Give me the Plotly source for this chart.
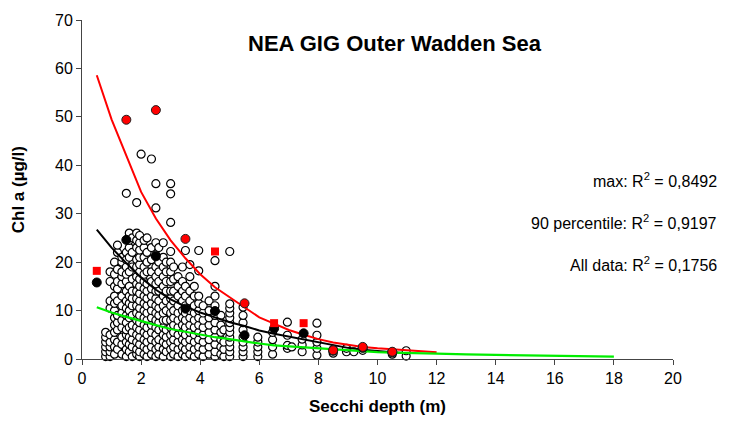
import plotly.graph_objects as go

# ---- data ----
col_x = [0.8, 0.95, 1.1, 1.2, 1.35, 1.5, 1.6, 1.7, 1.85, 1.95, 2.0, 2.1, 2.2, 2.35, 2.5, 2.6,
         2.75, 2.85, 3.0, 3.1, 3.25, 3.4, 3.5, 3.65, 3.8, 3.95, 4.1, 4.3, 4.5, 4.7, 4.8, 5.0,
         5.45, 5.95, 6.45, 6.95, 7.1, 7.45, 7.95, 8.5, 8.95, 9.2, 9.5, 10.5, 10.97]
col_y = [
    [0.5, 1.5, 2.5, 3.5, 4.5, 5.5],
    [0.5, 1.5, 2.5, 3.5, 5, 10.5, 12, 16, 18],
    [1, 2.5, 4, 5.5, 7, 8.5, 10, 11.5, 13, 15, 17.5, 20],
    [2, 3.5, 6, 7.5, 9, 12, 14.5, 16, 18.5, 22, 23.5],
    [1, 3, 4.5, 6.5, 8, 9.5, 11, 13, 15.5, 17, 18, 20, 21],
    [0.5, 2, 3.5, 5, 6, 7.5, 9, 10.5, 12, 14, 16, 17.5, 19, 20.5, 22, 34.2],
    [1.5, 3, 4.5, 6.5, 8.5, 10, 11.5, 13, 15, 18, 21, 23, 24.5, 26],
    [0.5, 2.5, 4, 5.5, 7, 9, 11, 12.5, 14, 16.5, 19, 22, 25],
    [1, 2, 3.5, 5, 6.5, 8, 9.5, 11, 12.5, 14, 15.5, 17, 19, 20.5, 23, 24.5, 26, 32.3],
    [0.5, 1.5, 3, 4.5, 6, 7.5, 9, 10.5, 12, 13.5, 15, 16.5, 18, 19.5, 21, 22.5, 24, 25.5],
    [42.3],
    [1, 2.5, 4, 5.5, 7, 8.5, 10, 11.5, 13, 14.5, 16, 17.5, 19, 21, 23, 24.5],
    [0.5, 2, 3.5, 5, 6.5, 8, 9.5, 11, 12.5, 14, 15.5, 18, 20, 22, 25],
    [1, 2.5, 4, 5.5, 7, 8.5, 10, 11.5, 13, 14.5, 16, 18, 20.5, 23, 41.3],
    [0.5, 2, 3.5, 5, 6.5, 8, 9.5, 11, 12.5, 14, 15.5, 17, 19, 21.5, 24, 31.2, 36.2],
    [1, 2.5, 4, 6, 7.5, 9, 10.5, 12, 14, 16, 18, 20, 23],
    [0.5, 2, 3.5, 5, 6.5, 8, 9.5, 11, 13, 15, 17, 19, 21, 24],
    [1.5, 3, 4.5, 6, 8, 10, 12, 14, 16, 18, 20],
    [0.5, 2, 3.5, 5, 6.5, 8, 9.5, 11, 12.5, 14, 16, 18, 20, 22.2, 28.2, 34.1, 36.2],
    [1, 2.5, 4, 5.5, 7, 8.5, 10, 12, 14, 16.5, 19],
    [0.5, 2, 3.5, 5, 6.5, 8, 9.5, 11, 13, 15, 17],
    [1, 2.5, 4, 5.5, 7, 8.5, 10, 12, 14, 16, 19],
    [0.5, 2, 3.5, 5, 6.5, 8, 9.5, 11, 13, 15, 22.4],
    [1, 2.5, 4, 5.5, 7, 8.5, 10, 12, 14, 17, 19.5],
    [0.5, 2, 3.5, 5, 6.5, 8, 9.5, 11, 13, 15],
    [1, 2.5, 4, 5.5, 7, 8.5, 10, 11.5, 13, 18.2, 22.4],
    [0.5, 2, 3.5, 5, 6.5, 8, 9.5, 11],
    [1, 2.5, 4, 5.5, 7, 8.5, 10, 12],
    [0.5, 1.5, 3, 4.5, 6, 7.5, 9, 11, 13, 15, 20.3],
    [1, 2.5, 4, 5.5, 7, 9],
    [0.5, 2, 3.5, 6],
    [0.5, 1.5, 2.5, 3.5, 4.5, 5.5, 6.5, 7.5, 8.5, 9.5, 10.5, 11.4, 22.2],
    [0.5, 1.5, 2.5, 3.5, 4.5, 6, 7.5, 9, 10.7],
    [0.5, 1.5, 2.5, 3.5, 4.5],
    [1, 2.5, 4, 5.5],
    [2.2, 2.8, 4.9, 7.6],
    [2.5],
    [1.5, 2.9, 4.1],
    [0.8, 2.2, 3.5, 4.9, 7.4],
    [1.2, 2],
    [1.5, 2.2],
    [1.5],
    [1.8],
    [1],
    [0.6, 1.7],
]

bin_x = [0.5, 1.5, 2.5, 3.5, 4.5, 5.5, 6.5, 7.5, 8.5, 9.5, 10.5]
p90_y = [15.8, 24.6, 21.2, 10.4, 9.9, 4.9, 6.3, 5.3, 1.7, 2.3, 1.4]

max_circ_x = [1.5, 2.5, 3.5, 5.5, 8.5, 9.5, 10.5]
max_circ_y = [49.4, 51.4, 24.8, 11.5, 1.8, 2.5, 1.5]
max_sq_x = [0.5, 4.5, 6.5, 7.5]
max_sq_y = [18.2, 22.2, 7.4, 7.4]

fit_max_x = [0.5, 1, 1.5, 2, 2.5, 3, 3.5, 4, 4.5, 5, 5.5, 6, 6.5, 7, 7.5, 8, 8.5, 9, 9.5, 10, 10.5, 11, 11.5, 12]
fit_max_y = [58.6, 49.5, 42, 34.5, 29, 24.5, 20.8, 17.5, 14.8, 12.7, 10.7, 8.6, 7.3, 6.0, 5.0, 4.1, 3.4, 2.9, 2.5, 2.2, 2.0, 1.8, 1.6, 1.4]

fit_p90_x = [0.5, 1, 1.5, 2, 2.5, 3, 3.5, 4, 4.5, 5, 5.5, 6, 6.5, 7, 7.5, 8, 8.5, 9, 9.5, 10, 10.5, 11]
fit_p90_y = [26.7, 23, 19.8, 16.8, 14.3, 12.3, 10.8, 9.6, 8.6, 7.6, 6.8, 5.9, 5.2, 4.6, 4.1, 3.5, 2.9, 2.3, 1.9, 1.6, 1.4, 1.2]

fit_all_x = [0.5, 1, 1.5, 2, 2.5, 3, 3.5, 4, 4.5, 5, 5.5, 6, 6.5, 7, 7.5, 8, 8.5, 9, 9.5, 10, 10.5, 11, 12, 13, 14, 15, 16, 17, 18]
fit_all_y = [10.7, 9.6, 8.7, 7.8, 7.0, 6.2, 5.6, 5.0, 4.5, 4.1, 3.6, 3.2, 2.8, 2.6, 2.3, 2.05, 1.85, 1.65, 1.5, 1.4, 1.3, 1.2, 1.1, 0.95, 0.85, 0.75, 0.65, 0.55, 0.47]

x_ticks = [0, 2, 4, 6, 8, 10, 12, 14, 16, 18, 20]
y_ticks = [0, 10, 20, 30, 40, 50, 60, 70]

r2_labels = ["max: R<sup>2</sup> = 0,8492",
             "90 percentile: R<sup>2</sup> = 0,9197",
             "All data: R<sup>2</sup> = 0,1756"]

# ---- build ----
open_x, open_y = [], []
for cx, ys in zip(col_x, col_y):
    for yv in ys:
        open_x.append(cx)
        open_y.append(yv)

FONT = "Liberation Sans, Arial, sans-serif"
fig = go.Figure()

fig.add_trace(go.Scatter(x=open_x, y=open_y, mode="markers", cliponaxis=False,
                         marker=dict(symbol="circle", size=8, color="white",
                                     line=dict(color="black", width=1.2))))
fig.add_trace(go.Scatter(x=fit_max_x, y=fit_max_y, mode="lines",
                         line=dict(color="#ff0000", width=2)))
fig.add_trace(go.Scatter(x=fit_p90_x, y=fit_p90_y, mode="lines",
                         line=dict(color="black", width=2)))
fig.add_trace(go.Scatter(x=fit_all_x, y=fit_all_y, mode="lines",
                         line=dict(color="#00ee00", width=2.2)))
fig.add_trace(go.Scatter(x=bin_x, y=p90_y, mode="markers", cliponaxis=False,
                         marker=dict(symbol="circle", size=9, color="black",
                                     line=dict(color="black", width=1))))
fig.add_trace(go.Scatter(x=max_circ_x, y=max_circ_y, mode="markers", cliponaxis=False,
                         marker=dict(symbol="circle", size=9, color="#ff0000",
                                     line=dict(color="#222", width=1))))
fig.add_trace(go.Scatter(x=max_sq_x, y=max_sq_y, mode="markers", cliponaxis=False,
                         marker=dict(symbol="square", size=8, color="#ff0000",
                                     line=dict(width=0))))

axis_common = dict(showgrid=False, zeroline=False, showline=True, linecolor="#444",
                   linewidth=1, ticks="outside", ticklen=5, tickcolor="#444",
                   tickfont=dict(family=FONT, size=16, color="black"))

fig.update_layout(
    width=733, height=436,
    margin=dict(l=82, r=60, t=16, b=77),
    paper_bgcolor="white", plot_bgcolor="white",
    showlegend=False,
    font=dict(family=FONT, color="black"),
    xaxis=dict(range=[0, 20], tickvals=x_ticks, **axis_common),
    yaxis=dict(range=[0, 70], tickvals=y_ticks, **axis_common),
)

# chart title
fig.add_annotation(text="<b>NEA GIG Outer Wadden Sea</b>", xref="paper", yref="paper",
                   x=0.53, y=0.93, showarrow=False, font=dict(family=FONT, size=22),
                   xanchor="center", yanchor="middle")
# axis titles
fig.add_annotation(text="<b>Secchi depth (m)</b>", xref="paper", yref="paper",
                   x=0.5, y=-0.14, showarrow=False, font=dict(family=FONT, size=17),
                   xanchor="center", yanchor="middle")
fig.add_annotation(text="<b>Chl a (µg/l)</b>", xref="paper", yref="paper",
                   x=-0.107, y=0.5, showarrow=False, font=dict(family=FONT, size=17),
                   textangle=-90, xanchor="center", yanchor="middle")

for i, lab in enumerate(r2_labels):
    fig.add_annotation(text=lab, xref="paper", yref="y", x=1.078, y=[37, 28.3, 19.7][i],
                       showarrow=False, xanchor="right", yanchor="middle",
                       font=dict(family=FONT, size=16))

fig.write_html("out.html")
